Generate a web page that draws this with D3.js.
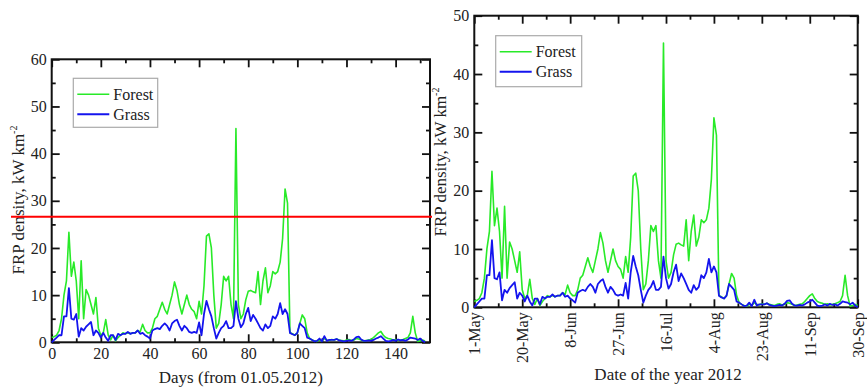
<!DOCTYPE html>
<html><head><meta charset="utf-8">
<script src="https://cdn.jsdelivr.net/npm/d3@7"></script>
<style>
html,body{margin:0;padding:0;background:#fff;}
svg{display:block;}
text{font-family:"Liberation Serif","Times New Roman",serif;fill:#222;}
</style></head>
<body>
<svg id="c" width="867" height="387"></svg>
<script>
// ---- data (daily values from 01.05.2012, day 0 .. 152) ----
const forest = [
 1,1.2,1.5,2.5,5,10,13,23.3,14,17,
 13,5,17.3,5,11.2,10,8,6,9.5,3,
 1.5,2,4.8,1.5,0.5,1.5,0.3,1,1.5,2,
 1.8,2,1.8,2,2,2.5,2.2,3.8,2.5,2,
 2,3,5,5.5,7,8.5,7,6,8,10,
 12.8,11,8,6,8,10,8,7,6.5,5,
 8.7,6,12,22.5,23,20,10,3,4,8,
 14,13,14,8,5,45.3,8,5,6,9,
 10.8,11,10.7,10.5,15,8,13,15.8,10.5,12,
 15,14.5,15,17,22,32.5,29.5,2,1.8,1.5,
 2,4,5.8,5,2,0.8,0.5,0.3,0.2,0.5,
 0.3,0.8,0.5,0.4,0.6,0.5,0.7,0.5,0.4,0.3,
 0.5,0.6,0.4,0.5,0.8,0.7,0.5,0.3,0.4,0.5,
 0.6,1,1.5,2,2.3,1.5,1,0.8,0.7,0.5,
 0.6,0.4,0.5,0.6,0.8,1,2,5.5,2,0.2,
 0.3,0.5,0.3];
const grass = [
 0,0.5,1,1.5,1.5,5.5,5.5,11.5,5,4.8,
 6,1.2,3,2.5,3.3,3.8,4.3,1.5,2.5,2,
 1,2,1,0.3,1.5,1.5,0.5,1.8,1.5,1.8,
 1.8,2.2,1.8,2,2,2.5,1.8,2,1.5,1.2,
 0.8,2.5,2.8,3,2.8,3.5,4,3.5,2.5,4,
 4.5,4.8,3.5,2.5,3.5,3,2.2,2,2.2,2,
 4.2,1.5,6,8.8,7,5.5,3,0.8,2,3,
 3.5,4.5,3,3,3.5,8.7,5,3.2,4,6,
 7.3,4.5,5.8,5,4,3,2.5,3.8,3,3.5,
 5.5,5,6,8.3,6,7,6,2,1.7,1.5,
 2,4,3.5,3,1,0.8,0.5,0.2,0.3,0.8,
 0.2,1.3,0.3,0.5,0.5,0.5,0.7,0.4,0.3,0.2,
 0.3,0.4,0.3,0.6,1.1,1.2,0.6,0.3,0.3,0.4,
 0.3,0.5,0.8,1,1.3,0.8,0.3,0.2,0.3,0.5,
 0.3,0.6,0.4,0.5,0.3,0.6,1,0.9,0.8,0.5,
 0.8,0.3,0];
const seriesNames = ["Forest","Grass"];
const leftXTicks = [0,20,40,60,80,100,120,140];
const leftYTicks = [0,10,20,30,40,50,60];
const rightYTicks = [0,10,20,30,40,50];
const dateTickLabels = ["1-May","20-May","8-Jun","27-Jun","16-Jul","4-Aug","23-Aug","11-Sep","30-Sep"];
const thresholdValue = 26.6;
const startDate = new Date(2012,4,1);
const endDate = new Date(2012,8,30);

// ---- styles ----
const GREEN = "#28ea28", BLUE = "#1414ee";
const TICK_FS = 16;
const svg = d3.select("#c");
svg.append("rect").attr("width",867).attr("height",387).attr("fill","#fff");

function styleAxis(g){
  g.select(".domain").remove();
  g.selectAll(".tick line").attr("stroke","#111").attr("stroke-width",1.8);
  g.selectAll(".tick text").attr("font-family","Liberation Serif, Times New Roman, serif")
    .attr("font-size",TICK_FS).attr("fill","#333");
}

function panel(opts){
  const {L,R,T,B,x,y,xMajor,xMinor,yMajor,yMinor,xFmt} = opts;
  const g = svg.append("g");
  const bot = g.append("g").attr("transform",`translate(0,${B})`)
    .call(d3.axisBottom(x).tickValues(xMajor).tickSize(-8).tickPadding(5).tickFormat(xFmt));
  styleAxis(bot);
  const botm = g.append("g").attr("transform",`translate(0,${B})`)
    .call(d3.axisBottom(x).tickValues(xMinor).tickSize(-4).tickFormat(""));
  styleAxis(botm);
  const top = g.append("g").attr("transform",`translate(0,${T})`)
    .call(d3.axisTop(x).tickValues(xMajor).tickSize(-8).tickFormat(""));
  styleAxis(top);
  const topm = g.append("g").attr("transform",`translate(0,${T})`)
    .call(d3.axisTop(x).tickValues(xMinor).tickSize(-4).tickFormat(""));
  styleAxis(topm);
  const lft = g.append("g").attr("transform",`translate(${L},0)`)
    .call(d3.axisLeft(y).tickValues(yMajor).tickSize(-8).tickPadding(5).tickFormat(d3.format("d")));
  styleAxis(lft);
  const lftm = g.append("g").attr("transform",`translate(${L},0)`)
    .call(d3.axisLeft(y).tickValues(yMinor).tickSize(-4).tickFormat(""));
  styleAxis(lftm);
  const rgt = g.append("g").attr("transform",`translate(${R},0)`)
    .call(d3.axisRight(y).tickValues(yMajor).tickSize(-8).tickFormat(""));
  styleAxis(rgt);
  const rgtm = g.append("g").attr("transform",`translate(${R},0)`)
    .call(d3.axisRight(y).tickValues(yMinor).tickSize(-4).tickFormat(""));
  styleAxis(rgtm);
  g.append("rect").attr("x",L).attr("y",T).attr("width",R-L).attr("height",B-T)
    .attr("fill","none").attr("stroke","#111").attr("stroke-width",2);
  return {g,bot};
}

function drawLines(g,xAcc,y){
  const line = d3.line().x((d,i)=>xAcc(i)).y(d=>y(d));
  g.append("path").datum(forest).attr("d",line).attr("fill","none")
    .attr("stroke",GREEN).attr("stroke-width",1.6).attr("stroke-linejoin","round");
  g.append("path").datum(grass).attr("d",line).attr("fill","none")
    .attr("stroke",BLUE).attr("stroke-width",1.8).attr("stroke-linejoin","round");
}

function legend(g,x0,y0,w,h){
  g.append("rect").attr("x",x0).attr("y",y0).attr("width",w).attr("height",h)
    .attr("fill","#fff").attr("stroke","#aaa").attr("stroke-width",1.2);
  const cols=[GREEN,BLUE];
  seriesNames.forEach((n,i)=>{
    const yy = y0+16+i*20;
    g.append("line").attr("x1",x0+4).attr("x2",x0+36).attr("y1",yy).attr("y2",yy)
      .attr("stroke",cols[i]).attr("stroke-width",i?2:1.6);
    g.append("text").attr("x",x0+40).attr("y",yy).attr("dy","0.35em")
      .attr("font-size",16).attr("fill","#333").text(n);
  });
}

function yTitle(g,cx,cy){
  const t = g.append("text").attr("transform",`translate(${cx},${cy}) rotate(-90)`)
    .attr("text-anchor","middle").attr("font-size",17).attr("fill","#333");
  t.append("tspan").text("FRP density, kW km");
  t.append("tspan").attr("font-size",10).attr("dy",-7).text("-2");
}

// ---- left panel ----
const L1=51.7,R1=430,T1=59.3,B1=342.3;
const xL = d3.scaleLinear().domain([0,154]).range([L1,R1]);
const yL = d3.scaleLinear().domain([0,60]).range([B1,T1]);
const p1 = panel({L:L1,R:R1,T:T1,B:B1,x:xL,y:yL,
  xMajor:leftXTicks, xMinor:d3.range(10,154,20),
  yMajor:leftYTicks, yMinor:d3.range(5,60,10), xFmt:d3.format("d")});
drawLines(p1.g,i=>xL(i),yL);
legend(p1.g,73.3,78.3,84.4,49);
yTitle(p1.g,24,200);
p1.g.append("text").attr("x",(L1+R1)/2).attr("y",383).attr("text-anchor","middle")
  .attr("font-size",17).attr("fill","#333").text("Days (from 01.05.2012)");

// ---- right panel ----
const L2=474.3,R2=857.7,T2=15.7,B2=307.3;
const xR = d3.scaleTime().domain([startDate,endDate]).range([L2,R2]);
const yR = d3.scaleLinear().domain([0,50]).range([B2,T2]);
const majorDates = dateTickLabels.map((s,i)=>d3.timeDay.offset(startDate,19*i));
const minorDates = dateTickLabels.slice(1).map((s,i)=>new Date(+d3.timeDay.offset(startDate,19*i)+9.5*864e5));
const p2 = panel({L:L2,R:R2,T:T2,B:B2,x:xR,y:yR,
  xMajor:majorDates, xMinor:minorDates,
  yMajor:rightYTicks, yMinor:d3.range(5,50,10), xFmt:(d,i)=>dateTickLabels[i]});
p2.bot.selectAll(".tick text")
  .attr("transform","rotate(-90)").attr("text-anchor","end")
  .attr("x",-5).attr("y",0).attr("dy","0.35em");
drawLines(p2.g,i=>xR(d3.timeDay.offset(startDate,i)),yR);
legend(p2.g,495.7,35.7,86,51);
yTitle(p2.g,446,162);
p2.g.append("text").attr("x",668).attr("y",380).attr("text-anchor","middle")
  .attr("font-size",17).attr("fill","#333").text("Date of the year 2012");

// ---- red threshold line across the left panel ----
svg.append("line").attr("x1",11).attr("x2",432)
  .attr("y1",yL(thresholdValue)).attr("y2",yL(thresholdValue))
  .attr("stroke","#f00").attr("stroke-width",2);
</script>
</body></html>
